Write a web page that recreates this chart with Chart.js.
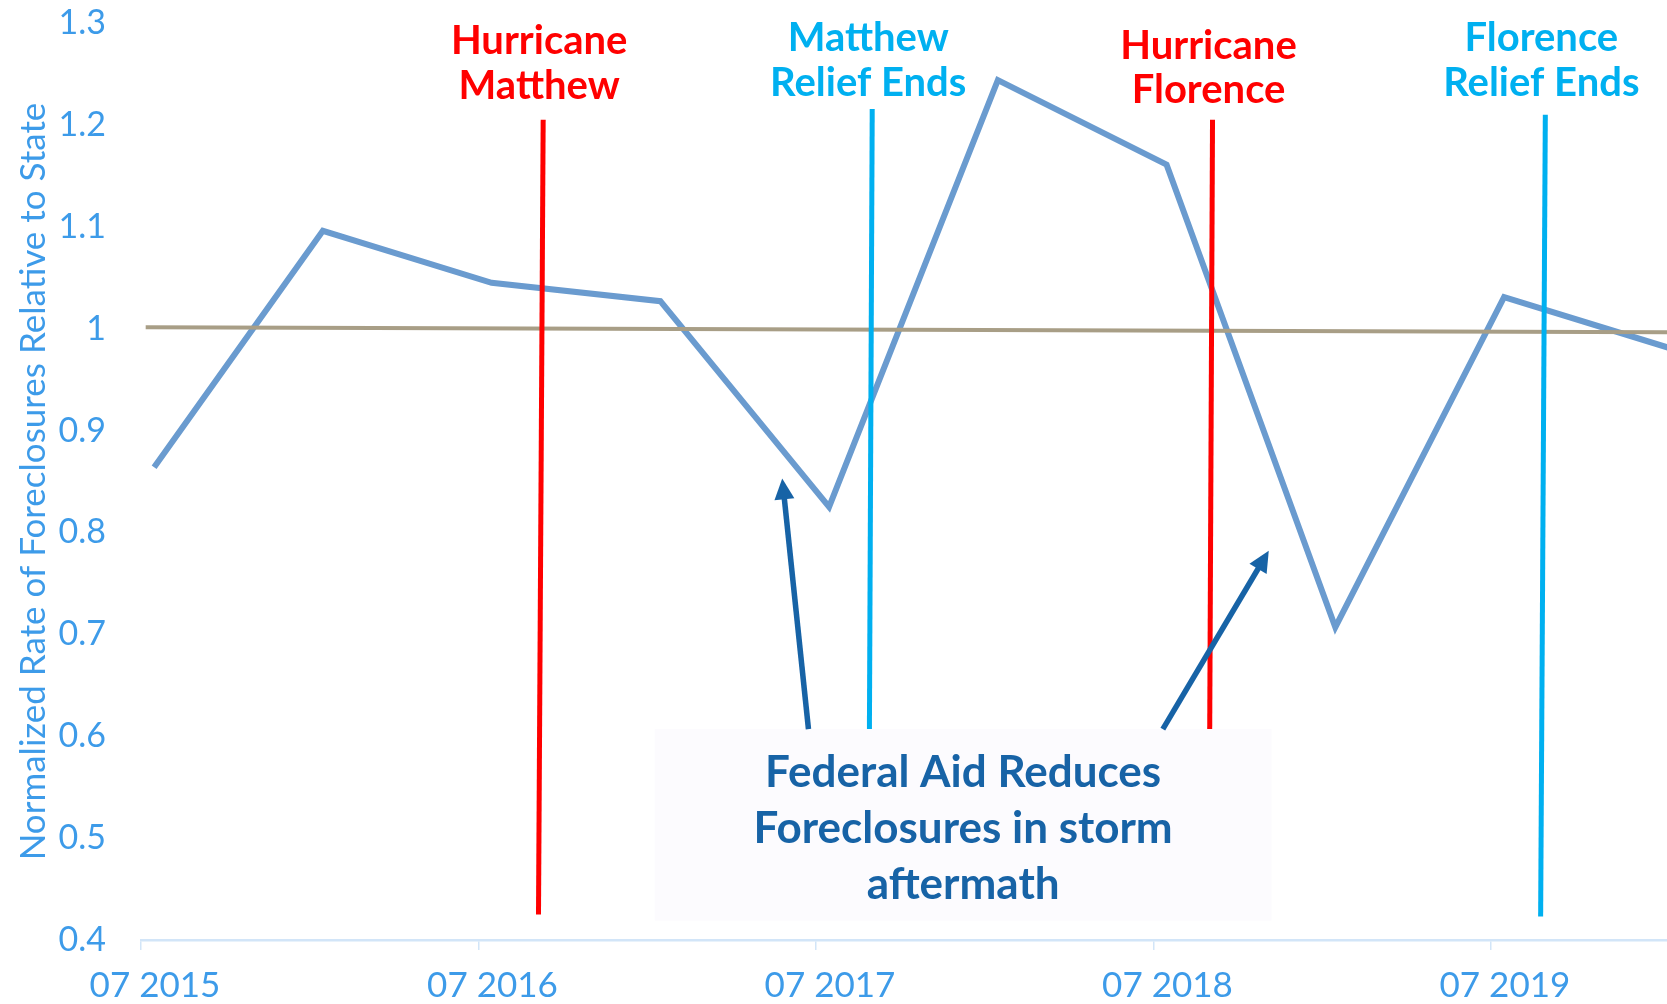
<!DOCTYPE html>
<html>
<head>
<meta charset="utf-8">
<title>Normalized foreclosure rate</title>
<script src="https://cdn.jsdelivr.net/npm/chart.js@4.4.1/dist/chart.umd.min.js"></script>
<style>
  html, body { margin: 0; padding: 0; background: #fff; }
</style>
</head>
<body>
<canvas id="rateChart" width="1667" height="1004"></canvas>
<script>
// half-yearly foreclosure rate, normalized so the state rate is 1
const periods = ['2015-07-15', '2016-01-15', '2016-07-15', '2017-01-15', '2017-07-15',
                 '2018-01-15', '2018-07-15', '2019-01-15', '2019-07-15', '2020-01-15'];
const normalizedRate = [0.864, 1.096, 1.045, 1.027, 0.825, 1.244, 1.161, 0.707, 1.031, 0.98];

// state reference line
const stateDates = ['2015-07-06', '2020-01-20'];
const stateValues = [1.0015, 0.9965];

const tickLabels = ['07 2015', '07 2016', '07 2017', '07 2018', '07 2019'];

// storm and relief markers
const eventNames = [['Hurricane', 'Matthew'], ['Matthew', 'Relief Ends'], ['Hurricane', 'Florence'], ['Florence', 'Relief Ends']];
const eventColors = ['#ff0000', '#00b0f0', '#ff0000', '#00b0f0'];
const eventTopDates = ['2016-09-10', '2017-09-01', '2018-09-04', '2019-08-29'];
const eventBottomDates = ['2016-09-05', '2017-08-28', '2018-09-01', '2019-08-24'];
const eventTopValues = [1.205, 1.2155, 1.205, 1.21];
const eventBottomValues = [0.425, 0.607, 0.607, 0.423];
const eventLabelValues = [1.282, 1.2847, 1.2778, 1.2847];

// callout box and its arrows
const noteLines = ['Federal Aid Reduces', 'Foreclosures in storm', 'aftermath'];
const noteDates = ['2017-01-09', '2018-11-07'];
const noteValues = [0.607, 0.419];
const arrowTailDates = ['2017-06-23', '2018-07-11'];
const arrowHeadDates = ['2017-05-25', '2018-11-04'];
const arrowTailValues = [0.607, 0.607];
const arrowHeadValues = [0.853, 0.782];

const axisBlue = '#3d9be9';
const noteBlue = '#1763a6';

// months since July 2015
function toMonths(d) {
    const [y, m, day] = d.split('-').map(Number);
    return (y - 2015) * 12 + (m - 7) + (day - 1) / 30;
}

function drawArrow(ctx, x1, y1, x2, y2) {
    const ang = Math.atan2(y2 - y1, x2 - x1);
    const head = 21, half = 10;
    const c = Math.cos(ang), s = Math.sin(ang);
    ctx.lineWidth = 5.5;
    ctx.beginPath();
    ctx.moveTo(x1, y1);
    ctx.lineTo(x2 - c * head * 0.8, y2 - s * head * 0.8);
    ctx.stroke();
    ctx.beginPath();
    ctx.moveTo(x2, y2);
    ctx.lineTo(x2 - c * head + s * half, y2 - s * head - c * half);
    ctx.lineTo(x2 - c * head - s * half, y2 - s * head + c * half);
    ctx.closePath();
    ctx.fill();
}

// callout box, arrows and marker captions
const overlayPlugin = {
    id: 'overlay',
    afterDatasetsDraw(chart) {
        const ctx = chart.ctx;
        const xs = chart.scales.x, ys = chart.scales.y;
        ctx.save();

        const bx1 = xs.getPixelForValue(toMonths(noteDates[0]));
        const bx2 = xs.getPixelForValue(toMonths(noteDates[1]));
        const by1 = ys.getPixelForValue(noteValues[0]);
        const by2 = ys.getPixelForValue(noteValues[1]);
        ctx.fillStyle = '#fcfbfe';
        ctx.fillRect(bx1, by1, bx2 - bx1, by2 - by1);

        ctx.strokeStyle = noteBlue;
        ctx.fillStyle = noteBlue;
        for (let i = 0; i < arrowTailDates.length; i++) {
            drawArrow(ctx,
                xs.getPixelForValue(toMonths(arrowTailDates[i])), ys.getPixelForValue(arrowTailValues[i]),
                xs.getPixelForValue(toMonths(arrowHeadDates[i])), ys.getPixelForValue(arrowHeadValues[i]));
        }

        ctx.font = 'bold 44px Lato';
        ctx.textAlign = 'center';
        ctx.textBaseline = 'alphabetic';
        noteLines.forEach((line, i) => {
            ctx.fillText(line, (bx1 + bx2) / 2, by1 + 58 + i * 56);
        });

        ctx.font = 'bold 40px Lato';
        ctx.textBaseline = 'middle';
        eventNames.forEach((lines, i) => {
            const x = xs.getPixelForValue(toMonths(eventTopDates[i])) - 4;
            const y = ys.getPixelForValue(eventLabelValues[i]);
            ctx.fillStyle = eventColors[i];
            lines.forEach((t, j) => ctx.fillText(t, x, y + j * 44.5));
        });
        ctx.restore();
    }
};

const eventSets = eventNames.map((name, i) => ({
    label: name.join(' '),
    data: [
        { x: toMonths(eventTopDates[i]), y: eventTopValues[i] },
        { x: toMonths(eventBottomDates[i]), y: eventBottomValues[i] }
    ],
    borderColor: eventColors[i],
    borderWidth: 5,
    pointRadius: 0,
    order: 1
}));

new Chart(document.getElementById('rateChart'), {
    type: 'line',
    data: {
        datasets: [
            ...eventSets,
            {
                label: 'State',
                data: stateDates.map((d, i) => ({ x: toMonths(d), y: stateValues[i] })),
                borderColor: '#a89e86',
                borderWidth: 4,
                pointRadius: 0,
                order: 2
            },
            {
                label: 'Normalized rate',
                data: periods.map((d, i) => ({ x: toMonths(d), y: normalizedRate[i] })),
                borderColor: '#6a9bcf',
                borderWidth: 6,
                borderJoinStyle: 'miter',
                pointRadius: 0,
                tension: 0,
                order: 3
            }
        ]
    },
    options: {
        responsive: false,
        animation: false,
        layout: { padding: { top: 23, right: 0, bottom: 0, left: 0 } },
        plugins: { legend: { display: false }, tooltip: { enabled: false } },
        scales: {
            x: {
                type: 'linear',
                min: 0,
                max: 54.26,
                afterFit: s => { s.height = 64; s.paddingLeft = 0; s.paddingRight = 0; },
                border: { display: true, color: '#d2e5f8', width: 2.5 },
                grid: { display: true, drawOnChartArea: false, drawTicks: true, tickLength: 10, color: '#d2e5f8', lineWidth: 1.5 },
                ticks: {
                    stepSize: 12,
                    includeBounds: false,
                    autoSkip: false,
                    maxRotation: 0,
                    padding: 15,
                    labelOffset: 14,
                    color: axisBlue,
                    font: { family: 'Lato', size: 35 },
                    callback: v => tickLabels[v / 12] ?? ''
                }
            },
            y: {
                min: 0.4,
                max: 1.3,
                afterFit: s => { s.width = 141; s.paddingTop = 0; s.paddingBottom = 0; },
                border: { display: false },
                grid: { display: false, drawTicks: false },
                ticks: {
                    stepSize: 0.1,
                    padding: 35,
                    color: axisBlue,
                    font: { family: 'Lato', size: 34 },
                    callback: v => String(Number(v.toFixed(1)))
                },
                title: {
                    display: true,
                    text: 'Normalized Rate of Foreclosures Relative to State',
                    color: axisBlue,
                    font: { family: 'Lato', size: 35 },
                    padding: { top: 13, bottom: 0 }
                }
            }
        }
    },
    plugins: [overlayPlugin]
});
</script>
</body>
</html>
